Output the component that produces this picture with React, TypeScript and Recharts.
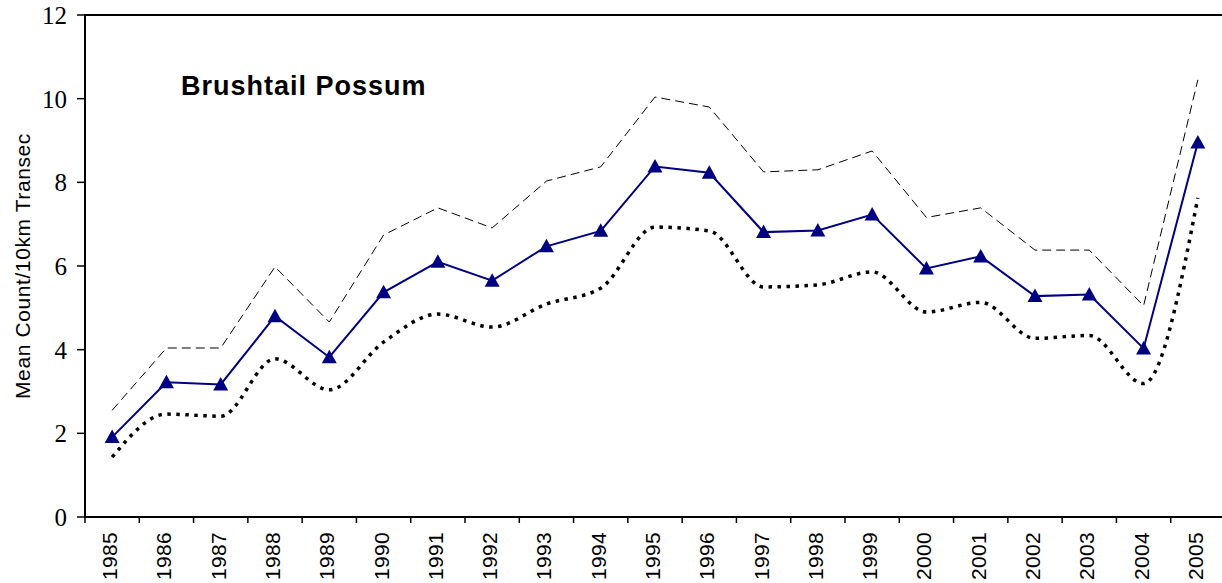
import React from 'react'
import { LineChart, Line, XAxis, YAxis, ReferenceArea } from 'recharts'

const years = [
  '1985', '1986', '1987', '1988', '1989', '1990', '1991', '1992', '1993', '1994',
  '1995', '1996', '1997', '1998', '1999', '2000', '2001', '2002', '2003', '2004', '2005',
]
const meanCount = [
  1.91, 3.22, 3.17, 4.8, 3.82, 5.37, 6.1, 5.65, 6.47, 6.84,
  8.38, 8.23, 6.81, 6.85, 7.23, 5.94, 6.23, 5.28, 5.32, 4.03, 8.95,
]
const upperBound = [
  2.55, 4.04, 4.04, 5.98, 4.66, 6.74, 7.39, 6.91, 8.03, 8.37,
  10.04, 9.8, 8.25, 8.3, 8.75, 7.16, 7.39, 6.38, 6.38, 5.05, 10.45,
]
const lowerBound = [
  1.43, 2.46, 2.41, 3.78, 3.04, 4.18, 4.85, 4.54, 5.09, 5.47,
  6.93, 6.84, 5.5, 5.55, 5.86, 4.9, 5.13, 4.27, 4.34, 3.19, 7.63,
]
const yTicks = [0, 2, 4, 6, 8, 10, 12]

const data = years.map((year, i) => ({
  year, mean: meanCount[i], upper: upperBound[i], lower: lowerBound[i],
}))

const W = 1230
const H = 583
const AXIS_W = 85
const AXIS_H = 66
const MARGIN = { top: 15, right: 5, bottom: 0, left: 0 }
const BAND = (W - MARGIN.right - AXIS_W) / years.length

const sans = '"Liberation Sans", Arial, sans-serif'
const serif = '"Liberation Serif", "Times New Roman", serif'

// labels are drawn rotated, tick marks sit between the years
const YearTick = ({ x, y, payload }: any) => (
  <g>
    <line x1={x - BAND / 2} y1={y} x2={x - BAND / 2} y2={y + 6} stroke="#000" strokeWidth={1.5} />
    <text
      transform={`translate(${x + 5},${y + 15}) rotate(-90)`}
      textAnchor="end" fontFamily={sans} fontSize={21} letterSpacing={0.3} fill="#000"
    >
      {payload.value}
    </text>
  </g>
)

const Triangle = ({ cx, cy }: any) => {
  if (cx == null || cy == null) return null
  return <path d={`M${cx},${cy - 7.5} L${cx + 7.5},${cy + 6} L${cx - 7.5},${cy + 6} Z`} fill="#000080" />
}

export default function App() {
  return (
    <div style={{ position: 'absolute', left: 0, top: 0, width: 1222, height: H, overflow: 'hidden', background: '#fff' }}>
      <LineChart width={W} height={H} data={data} margin={MARGIN}>
        <ReferenceArea y1={0} y2={12} fill="none" stroke="#000" strokeWidth={2} ifOverflow="visible" />
        <XAxis
          dataKey="year" scale="band" interval={0} height={AXIS_H} tickSize={0} tickMargin={0}
          axisLine={{ stroke: '#000', strokeWidth: 2 }} tickLine={false} tick={<YearTick />}
        />
        <YAxis
          domain={[0, 12]} ticks={yTicks} width={AXIS_W} tickSize={8} tickMargin={10}
          axisLine={{ stroke: '#000', strokeWidth: 2 }} tickLine={{ stroke: '#000', strokeWidth: 1.5 }}
          tick={{ fill: '#000', fontSize: 25, fontFamily: serif }}
        />
        <Line
          type="monotone" dataKey="lower" stroke="#000" strokeWidth={3.5}
          strokeDasharray="3.5 5.5" dot={false} isAnimationActive={false}
        />
        <Line
          type="linear" dataKey="upper" stroke="#000" strokeWidth={1}
          strokeDasharray="9 5" dot={false} isAnimationActive={false}
        />
        <Line
          type="linear" dataKey="mean" stroke="#000080" strokeWidth={2}
          dot={<Triangle />} activeDot={false} isAnimationActive={false}
        />
      </LineChart>
      <div style={{
        position: 'absolute', left: 181, top: 73, fontFamily: sans, fontWeight: 'bold',
        fontSize: 27, lineHeight: '27px', letterSpacing: 1, whiteSpace: 'nowrap', color: '#000',
      }}>
        Brushtail Possum
      </div>
      <div style={{
        position: 'absolute', left: 22, top: 266, transform: 'translate(-50%, -50%) rotate(-90deg)',
        fontFamily: sans, fontSize: 21, lineHeight: '21px', letterSpacing: 0.6, whiteSpace: 'nowrap', color: '#000',
      }}>
        Mean Count/10km Transec
      </div>
    </div>
  )
}
